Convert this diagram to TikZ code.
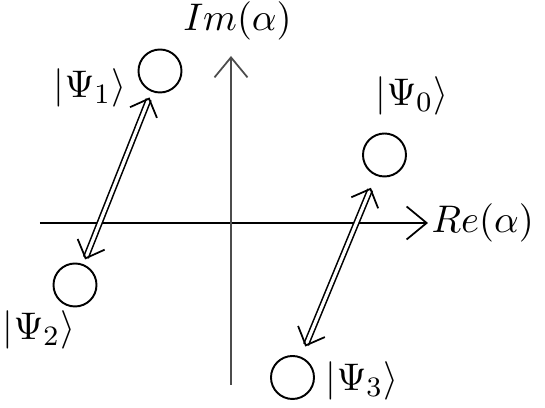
\documentclass[tikz,border=0pt]{standalone}
\usetikzlibrary{arrows.meta}

\begin{document}
\begin{tikzpicture}[x=1mm,y=1mm,
  coh/.style={circle, draw, line width=0.55pt, minimum size=4.3mm, inner sep=0pt},
  axis/.style={line width=0.35pt, -{Straight Barb[length=2mm,width=3.3mm,line width=0.5pt]}},
  swap/.style={double, double distance=0.9pt, line width=0.45pt,
    {Straight Barb[length=1.5mm,width=2.9mm,line width=0.5pt]}-{Straight Barb[length=1.5mm,width=2.9mm,line width=0.5pt]}}]
\useasboundingbox (0,0) rectangle (54.5,40.8);
\begin{scope}[every node/.style={font=\fontsize{11}{13}\selectfont}]

% axes
\coordinate (xl) at (4,18.5);
\coordinate (xr) at (42.8,18.5);
\coordinate (yb) at (23.1,2.3);
\coordinate (yt) at (23.1,35.2);
\draw [axis] (xl) -- (xr);
\draw [axis,black!70] (yb) -- (yt);
\node [anchor=west, inner sep=0.3mm] (re) at (xr) {$Re(\alpha)$};
\node (im) at (23.75,38.7) {$Im(\alpha)$};

% states
\foreach \n/\x/\y in {0/38.45/25.3, 1/16/33.7, 2/7.5/12.3, 3/29.25/3.05}
  \node [coh] (psi\n) at (\x,\y) {};
\foreach \n/\x/\y in {0/41.2/31.2, 1/9.0/32.0, 2/3.9/7.8, 3/36.2/2.7}
  \node (lab\n) at (\x,\y) {$|\Psi_\n\rangle$};

\draw [swap, shorten <=0.6mm, shorten >=0.5mm] (psi1) -- (psi2);
\draw [swap, shorten <=1.3mm, shorten >=1.1mm] (psi0) -- (psi3);

\end{scope}
\end{tikzpicture}
\end{document}
